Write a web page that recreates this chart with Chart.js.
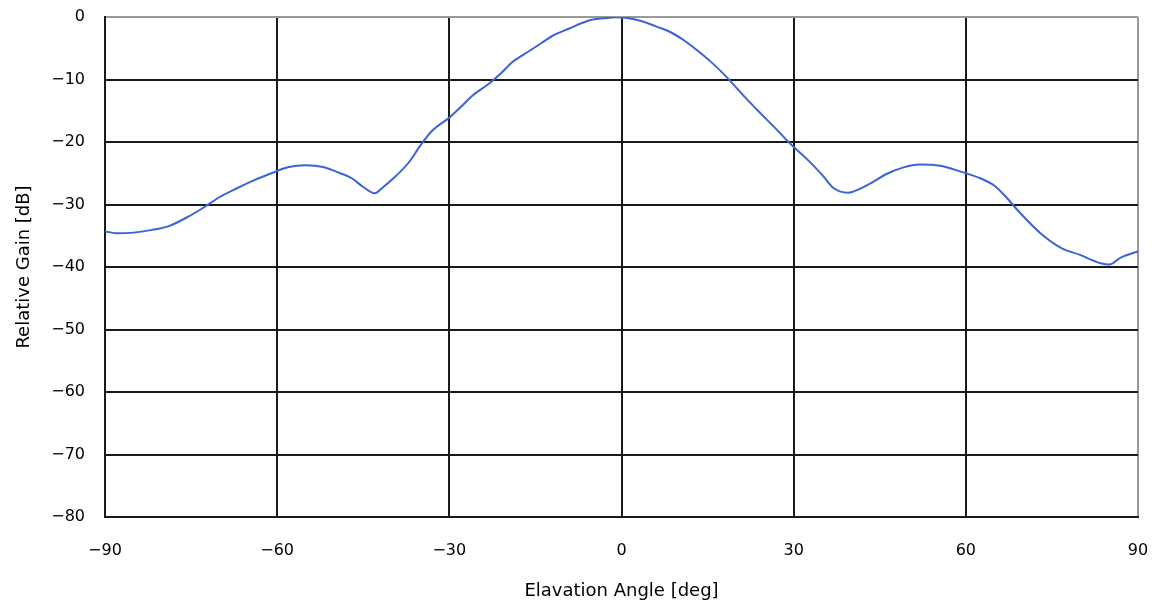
<!DOCTYPE html>
<html>
<head>
<meta charset="utf-8">
<script src="https://cdn.jsdelivr.net/npm/chart.js@4"></script>
<style>
  html, body { margin: 0; padding: 0; background: #ffffff; }
  #wrap { width: 1161px; height: 610px; position: relative; }
</style>
</head>
<body>
<div id="wrap"><canvas id="c" width="1161" height="610"></canvas></div>
<script>
// Elevation angle [deg]
const angles = [-90, -88, -85, -82, -79, -76, -73, -70, -67, -64, -61, -58, -55, -52, -49, -47, -45, -43, -41.5, -39.5,
  -37, -35, -33, -30, -28, -26, -23, -21, -19, -16, -14, -12, -9, -7, -5, -3, -1, 1, 4, 6,
  8.5, 11, 13, 15.5, 18, 20, 22, 24, 26.5, 29, 30, 32.5, 35, 37, 39.5, 41.5, 44, 46, 49, 52,
  55.5, 59, 62.5, 65, 67, 69.5, 73, 76.5, 80, 83.5, 85, 87, 90];
// Relative gain [dB]
const gains = [-34.3, -34.6, -34.5, -34.1, -33.5, -32.2, -30.6, -28.8, -27.4, -26.1, -25.0, -24.0, -23.7, -24.0, -25.0, -25.8, -27.2, -28.2, -27.2, -25.6,
  -23.2, -20.5, -18.2, -16.1, -14.4, -12.6, -10.6, -9.0, -7.2, -5.4, -4.2, -3.0, -1.8, -1.0, -0.4, -0.2, -0.05, -0.15, -0.8, -1.5,
  -2.4, -3.8, -5.2, -7.1, -9.3, -11.3, -13.3, -15.2, -17.5, -19.9, -20.8, -22.9, -25.3, -27.4, -28.1, -27.5, -26.3, -25.2, -24.1, -23.6,
  -23.8, -24.7, -25.8, -27.0, -28.8, -31.4, -34.6, -36.9, -38.1, -39.4, -39.6, -38.5, -37.5];

const xTicks = [-90, -60, -30, 0, 30, 60, 90];
const xTickLabels = ['\u221290', '\u221260', '\u221230', '0', '30', '60', '90'];
const yTicks = [0, -10, -20, -30, -40, -50, -60, -70, -80];
const yTickLabels = ['0', '\u221210', '\u221220', '\u221230', '\u221240', '\u221250', '\u221260', '\u221270', '\u221280'];

const points = angles.map((a, i) => ({ x: a, y: gains[i] }));

const tickFont = { family: 'DejaVu Sans', size: 16 };
const titleFont = { family: 'DejaVu Sans', size: 18 };

new Chart(document.getElementById('c'), {
  type: 'line',
  data: {
    datasets: [{
      data: points,
      borderColor: '#3b63d8',
      borderWidth: 2,
      pointRadius: 0,
      fill: false,
      cubicInterpolationMode: 'monotone'
    }]
  },
  options: {
    responsive: false,
    animation: false,
    layout: { padding: { left: 0, right: 23, top: 17, bottom: 0 } },
    plugins: { legend: { display: false }, tooltip: { enabled: false } },
    scales: {
      x: {
        type: 'linear',
        min: -90, max: 90,
        afterBuildTicks: (s) => { s.ticks = xTicks.map(v => ({ value: v })); },
        afterFit: (s) => { s.height = 93; s.paddingLeft = 0; s.paddingRight = 0; s.paddingTop = 0; s.paddingBottom = 0; },
        ticks: {
          color: '#000',
          font: tickFont,
          padding: 24,
          maxRotation: 0,
          callback: (v) => { const i = xTicks.indexOf(v); return i >= 0 ? xTickLabels[i] : ''; }
        },
        grid: {
          drawTicks: false,
          color: (ctx) => (ctx.tick && ctx.tick.value === 90) ? '#999999' : '#1a1a1a',
          lineWidth: 2
        },
        border: { display: true, color: '#1a1a1a', width: 2 },
        title: {
          display: true,
          text: 'Elavation Angle [deg]',
          color: '#000',
          font: titleFont,
          padding: { top: 0, bottom: 8 }
        }
      },
      y: {
        type: 'linear',
        min: -80, max: 0,
        afterBuildTicks: (s) => { s.ticks = yTicks.map(v => ({ value: v })); },
        afterFit: (s) => { s.width = 105; s.paddingLeft = 0; s.paddingRight = 0; s.paddingTop = 0; s.paddingBottom = 0; },
        ticks: {
          color: '#000',
          font: tickFont,
          padding: 20,
          callback: (v) => { const i = yTicks.indexOf(v); return i >= 0 ? yTickLabels[i] : ''; }
        },
        grid: {
          drawTicks: false,
          color: (ctx) => (ctx.tick && ctx.tick.value === 0) ? '#999999' : '#1a1a1a',
          lineWidth: 2
        },
        border: { display: true, color: '#1a1a1a', width: 2 },
        title: {
          display: true,
          text: 'Relative Gain [dB]',
          color: '#000',
          font: titleFont,
          padding: { top: 14, bottom: 0 }
        }
      }
    }
  }
});
</script>
</body>
</html>
